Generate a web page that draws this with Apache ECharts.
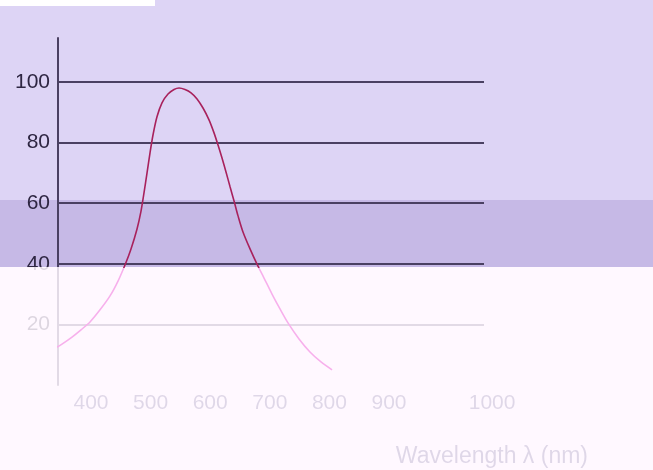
<!DOCTYPE html>
<html>
<head>
<meta charset="utf-8">
<script src="https://cdn.jsdelivr.net/npm/echarts@6/dist/echarts.min.js"></script>
<style>html,body{margin:0;padding:0;background:#fff8ff}#c{width:653px;height:470px}</style>
</head>
<body>
<div id="c"></div>
<script>
// Wavelength (nm) and relative value (%)
const wavelength = [334.6, 351.3, 368.1, 383.2, 398.3, 415.1, 431.9, 445.3, 457.0, 467.1, 477.2, 483.9, 488.9, 494.0, 499.0, 504.0, 510.7, 519.1, 529.2, 539.3, 547.7,
                    557.7, 567.8, 577.9, 587.9, 598.0, 606.4, 613.1, 619.8, 626.5, 633.3, 640.0, 646.7, 655.0, 666.8, 678.5, 690.3, 703.7, 717.1, 730.5, 749.0, 767.4, 785.9, 804.4];
const response   = [11.6, 13.5, 15.8, 18.2, 20.8, 24.8, 29.4, 34.3, 39.6, 44.9, 51.5, 57.4, 63.4, 70.0, 76.6, 82.5, 88.5, 93.1, 96.0, 97.5, 98.0,
                    97.5, 96.4, 94.4, 91.4, 87.5, 83.2, 79.2, 74.9, 70.3, 65.4, 60.7, 55.8, 50.5, 44.9, 39.9, 35.3, 30.0, 25.1, 20.5, 15.2, 10.9, 7.6, 5.0];
const xTickValues = [400, 500, 600, 700, 800, 900, 1000];
const xTickLabels = ['400', '500', '600', '700', '800', '900', '1000'];
const yTickValues = [20, 40, 60, 80, 100];
const xTitle = 'Wavelength λ (nm)';

const chart = echarts.init(document.getElementById('c'), null, {renderer: 'canvas'});
const font = '"Liberation Sans", Arial, sans-serif';

chart.setOption({
  animation: false,
  backgroundColor: '#fff8ff',
  grid: {left: 58, right: 169, top: 38, bottom: 85},
  graphic: [
    {type: 'rect', z: -10, shape: {x: 0, y: 0, width: 653, height: 200}, style: {fill: '#ddd4f5'}},
    {type: 'rect', z: -10, shape: {x: 0, y: 0, width: 155, height: 6}, style: {fill: '#ffffff'}},
    {type: 'rect', z: -10, shape: {x: 0, y: 200, width: 653, height: 67}, style: {fill: '#c6b9e6'}},
    {type: 'rect', z: 5, shape: {x: 0, y: 267, width: 653, height: 203}, style: {fill: 'rgba(255,248,255,0.84)'}}
  ],
  xAxis: {
    type: 'value',
    min: 344.6,
    max: 1059.4,
    axisLine: {show: false},
    axisTick: {show: false},
    splitLine: {show: false},
    axisLabel: {
      customValues: xTickValues,
      margin: 8,
      fontSize: 21,
      fontFamily: font,
      color: '#3a3070',
      formatter: function (v) {
        const i = xTickValues.indexOf(v);
        const t = i >= 0 ? xTickLabels[i] : '';
        return i === xTickValues.length - 1 ? '{far|' + t + '}' : t;
      },
      rich: {far: {padding: [0, 0, 0, 87], fontSize: 21, fontFamily: font, color: '#3a3070'}}
    },
    name: xTitle,
    nameLocation: 'end',
    nameGap: 104,
    nameTextStyle: {
      fontSize: 23, fontFamily: font, color: '#3a3070',
      align: 'right', verticalAlign: 'top', padding: [60, 0, 0, 0]
    }
  },
  yAxis: {
    type: 'value',
    min: 0,
    max: 114.5,
    interval: 20,
    axisLine: {show: true, lineStyle: {color: '#4a4062', width: 2}},
    axisTick: {show: false},
    splitLine: {show: true, showMinLine: false, showMaxLine: false, lineStyle: {color: '#4a4062', width: 2}},
    axisLabel: {
      margin: 8,
      fontSize: 21,
      fontFamily: font,
      color: '#2e2642',
      formatter: function (v) { return yTickValues.indexOf(v) >= 0 ? String(v) : ''; }
    }
  },
  visualMap: {
    show: false,
    type: 'piecewise',
    seriesIndex: 0,
    dimension: 1,
    pieces: [
      {gte: 38.6, lte: 200, color: '#a8215c'},
      {gte: -100, lt: 38.6, color: '#f7b0ec'}
    ]
  },
  series: [{
    type: 'line',
    z: 10,
    clip: false,
    smooth: 0.3,
    symbol: 'none',
    lineStyle: {width: 1.6},
    data: wavelength.map((w, i) => [w, response[i]])
  }]
});
</script>
</body>
</html>
